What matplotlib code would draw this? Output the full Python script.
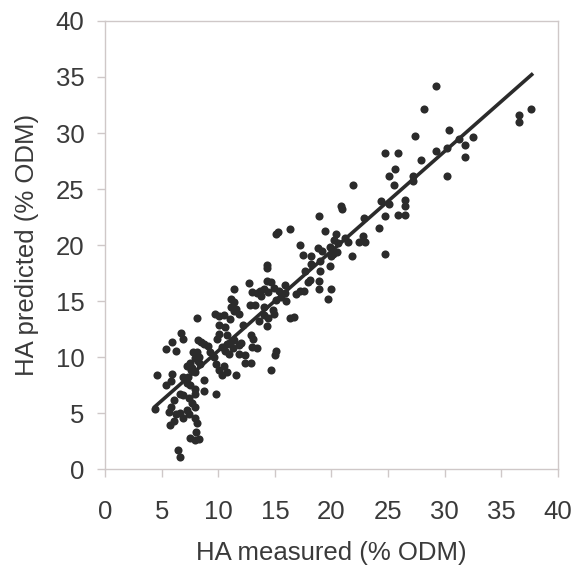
import matplotlib
matplotlib.use('Agg')
import matplotlib.pyplot as plt

# HA measured vs predicted (% ODM)
ha_measured = [
    29.2, 28.2, 37.6, 36.6, 36.6, 30.4, 27.4, 31.3, 32.5, 31.8, 31.8, 29.2, 30.2, 27.9, 30.2,
    24.7, 25.9, 25.6, 25.1, 25.5, 27.2, 27.2, 26.5, 26.5, 25.9, 26.5, 24.7, 24.4, 25.1, 24.2,
    24.7, 21.9, 22.9, 22.8, 22.4, 21.8, 20.8, 20.9, 20.4, 20.2, 20.6, 21.2, 18.9, 19.4, 17.2,
    17.5, 18.8, 19.2, 19.9, 20.1, 20.0, 20.5, 18.2, 18.2, 17.7, 19.0, 19.9, 18.9, 18.9, 17.9,
    18.1, 20.0, 19.7, 16.9, 17.2, 17.6, 16.3, 16.7, 15.3, 15.1, 16.3, 15.9, 15.9, 14.7, 14.9,
    15.4, 15.5, 15.1, 14.3, 14.3, 14.3, 14.0, 14.4, 13.7, 14.0, 14.0, 14.4, 14.8, 14.9, 14.3,
    15.1, 15.0, 14.7, 12.7, 13.0, 13.4, 13.8, 12.8, 13.2, 11.4, 11.1, 11.4, 11.1, 11.6, 10.5,
    11.0, 11.4, 11.8, 10.1, 10.6, 9.7, 10.1, 8.1, 10.1, 9.9, 10.8, 11.0, 11.4, 11.3, 10.8,
    10.3, 10.6, 11.8, 11.8, 12.4, 12.4, 12.9, 13.0, 13.4, 12.9, 13.1, 12.2, 11.6, 10.3, 9.8,
    10.1, 10.5, 10.8, 9.3, 9.1, 8.2, 8.7, 9.8, 8.7, 8.7, 7.8, 8.1, 7.9, 8.2, 7.5, 7.2,
    7.7, 8.4, 7.9, 6.9, 7.3, 7.2, 7.5, 7.9, 7.9, 6.9, 7.4, 7.7, 7.9, 7.2, 7.4,
    7.9, 8.1, 8.0, 7.5, 7.9, 8.3, 6.6, 6.3, 6.1, 6.9, 5.6, 5.8, 5.7, 5.4, 5.8,
    5.9, 4.6, 4.4, 5.4, 5.9, 6.3, 6.7, 6.9, 6.4, 6.6, 6.6, 6.1, 8.5, 8.3, 7.6,
    9.6, 10.9, 12.0, 16.0, 13.6, 21.5, 23.0, 19.0,
]
ha_predicted = [
    34.15, 32.1, 32.1, 31.6, 31.0, 30.3, 29.7, 29.5, 29.6, 28.9, 27.9, 28.4, 28.7, 27.6, 26.2,
    28.2, 28.2, 26.8, 26.2, 25.4, 26.2, 25.7, 24.0, 23.5, 22.7, 22.7, 22.6, 23.9, 23.7, 21.5,
    19.2, 25.4, 22.4, 20.8, 20.3, 19.0, 23.5, 23.2, 21.0, 20.5, 20.2, 20.6, 22.6, 21.3, 20.0,
    19.1, 19.7, 19.5, 19.8, 19.2, 19.0, 19.4, 19.0, 18.3, 17.7, 17.7, 18.1, 16.8, 16.1, 16.7,
    16.9, 16.1, 15.2, 15.6, 15.9, 15.9, 13.5, 13.6, 21.2, 21.0, 21.4, 16.4, 15.7, 16.7, 16.2,
    15.9, 15.4, 15.1, 18.2, 18.0, 16.8, 16.1, 15.8, 15.9, 14.5, 13.8, 13.5, 14.2, 13.9, 12.8,
    10.6, 10.2, 8.9, 16.6, 15.8, 15.7, 15.5, 14.7, 14.7, 16.1, 15.2, 14.9, 14.5, 14.3, 13.8,
    13.4, 14.1, 13.9, 12.9, 12.7, 13.9, 13.7, 13.5, 12.1, 11.6, 12.0, 11.3, 11.5, 10.8, 11.2,
    10.9, 10.6, 11.1, 10.3, 10.2, 9.5, 9.5, 10.9, 10.8, 12.0, 11.6, 12.9, 8.4, 8.4, 9.4,
    8.9, 9.2, 8.7, 10.5, 11.0, 11.5, 11.2, 6.7, 7.0, 8.0, 10.5, 10.5, 9.9, 9.7, 9.5, 9.2,
    9.0, 9.4, 8.7, 8.2, 8.2, 7.7, 7.5, 7.2, 6.7, 6.6, 6.4, 5.9, 5.6, 5.3, 4.9,
    4.6, 4.1, 3.3, 2.8, 2.6, 2.7, 5.0, 4.9, 4.3, 4.6, 5.1, 5.6, 4.0, 7.5, 7.9,
    8.5, 8.4, 5.4, 10.7, 11.4, 10.6, 12.2, 11.6, 1.7, 1.1, 6.7, 6.2, 11.4, 10.0, 8.9,
    10.0, 10.3, 11.3, 15.0, 13.2, 20.3, 20.3, 18.6,
]

# fitted line
fit_slope = 0.889
fit_intercept = 1.69
fit_x = [4.4, 37.7]

x_ticks = [0, 5, 10, 15, 20, 25, 30, 35, 40]
y_ticks = [0, 5, 10, 15, 20, 25, 30, 35, 40]

plt.rcParams['font.family'] = ['Liberation Sans', 'DejaVu Sans']

fig = plt.figure(figsize=(5.73, 5.72), dpi=100)
ax = fig.add_axes([0.1836, 0.1794, 0.7897, 0.7841])

ax.scatter(ha_measured, ha_predicted, s=34, color='#2b2b2b', linewidths=0, zorder=3)
ax.plot(fit_x, [fit_slope * v + fit_intercept for v in fit_x], color='#2b2b2b', linewidth=2.6, zorder=4)

ax.set_xlim(0, 40)
ax.set_ylim(0, 40)
ax.set_xticks(x_ticks)
ax.set_yticks(y_ticks)

spine_color = '#cfc8c8'
for s in ax.spines.values():
    s.set_color(spine_color)
    s.set_linewidth(1.0)

ax.tick_params(axis='both', direction='out', length=6, width=1.0, color=spine_color,
               labelsize=18.5, labelcolor='#3a3a3a')
ax.tick_params(axis='x', pad=16)
ax.tick_params(axis='y', pad=9)

ax.set_xlabel('HA measured (% ODM)', fontsize=18.5, color='#3a3a3a', labelpad=12)
ax.set_ylabel('HA predicted (% ODM)', fontsize=18.5, color='#3a3a3a', labelpad=12)

plt.savefig('out.png', dpi=100)
plt.close()
